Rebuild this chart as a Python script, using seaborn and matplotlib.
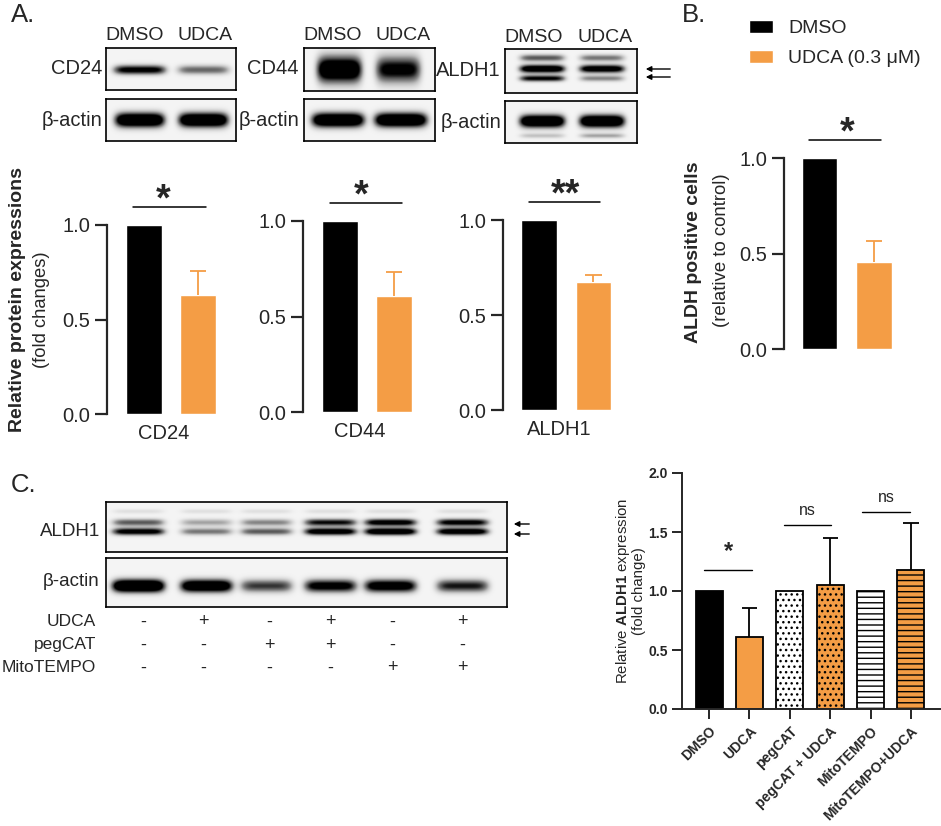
import numpy as np
import matplotlib.pyplot as plt
import seaborn as sns
from matplotlib.patches import Patch, FancyArrowPatch

W, H = 941, 826
black = '#000000'
orange = '#F49D45'

# panel A quantification (fold change vs DMSO)
groups = ['DMSO', 'UDCA']
cd24_vals = [1.0, 0.63]
cd24_err = [0.0, 0.125]
cd44_vals = [1.0, 0.607]
cd44_err = [0.0, 0.126]
aldh1_vals = [1.0, 0.674]
aldh1_err = [0.0, 0.036]

# panel B
aldh_pos_vals = [1.0, 0.455]
aldh_pos_err = [0.0, 0.11]

# panel C
c_groups = ['DMSO', 'UDCA', 'pegCAT', 'pegCAT + UDCA', 'MitoTEMPO', 'MitoTEMPO+UDCA']
c_vals = [1.0, 0.61, 1.0, 1.05, 1.0, 1.18]
c_err = [0.0, 0.245, 0.0, 0.40, 0.0, 0.40]
c_colors = [black, orange, 'white', orange, 'white', orange]
c_hatches = ['', '', '...', '...', '---', '---']
udca_row = ['-', '+', '-', '+', '-', '+']
pegcat_row = ['-', '-', '+', '+', '-', '-']
mito_row = ['-', '-', '-', '-', '+', '+']

# western blot band intensities per lane
cd24_band = [0.95, 0.55]
cd44_band = [1.3, 0.95]
aldh1_a_top = [0.6, 0.5]
aldh1_a_mid = [1.2, 1.1]
aldh1_a_low = [0.9, 0.45]
actin_a = [1.4, 1.4]
aldh1_c_upper = [0.6, 0.35, 0.45, 0.85, 1.0, 0.95]
aldh1_c_lower = [1.0, 0.5, 0.6, 1.1, 1.2, 1.1]
actin_c = [1.5, 1.3, 0.7, 1.0, 1.1, 0.8]

sns.set_style('ticks')
plt.rcParams['font.family'] = ['Liberation Sans', 'DejaVu Sans']
plt.rcParams['mathtext.fontset'] = 'custom'
plt.rcParams['mathtext.rm'] = 'Liberation Sans'
plt.rcParams['mathtext.bf'] = 'Liberation Sans:bold'
plt.rcParams['hatch.linewidth'] = 1.0

fig = plt.figure(figsize=(W / 100, H / 100), dpi=100)


def rect(x0, y0, x1, y1):
    return [x0 / W, 1 - y1 / H, (x1 - x0) / W, (y1 - y0) / H]


def ftext(x, y, s, **kw):
    fig.text(x / W, 1 - y / H, s, **kw)


def arrow(x_tail, x_head, y):
    fig.add_artist(FancyArrowPatch(
        (x_tail / W, 1 - y / H), (x_head / W, 1 - y / H), transform=fig.transFigure,
        arrowstyle='-|>', mutation_scale=8, lw=1.0, color=black))


def upper_err(ax, xs, vals, errs, color, half, lw):
    # one-sided (upward) error bars, as drawn by Prism
    for x, v, e in zip(xs, vals, errs):
        if e > 0:
            ax.vlines(x, v, v + e, color=color, lw=lw, zorder=3)
            ax.hlines(v + e, x - half, x + half, color=color, lw=lw, zorder=3)


def draw_blot(box, centers, half_w, bands):
    ax = fig.add_axes(rect(*box))
    xs = np.linspace(0, 1, 400)
    ys = np.linspace(0, 1, 120)
    img = np.zeros((ys.size, xs.size))
    for yc, sig, levels in bands:
        for c, v in zip(centers, levels):
            px = np.exp(-((xs - c) / half_w) ** 6)
            py = np.exp(-((ys - yc) / sig) ** 2)
            img += v * np.outer(py, px)
    ax.imshow(np.clip(img, 0, 1), cmap='Greys', vmin=-0.08, vmax=0.85,
              extent=(0, 1, 0, 1), aspect='auto', interpolation='bilinear')
    ax.set_xticks([])
    ax.set_yticks([])
    for s in ax.spines.values():
        s.set_linewidth(1.2)
        s.set_color(black)
    return ax


def fold_chart(left, top, bottom, spacing, xl, vals, errs, name, stars, star_x, sig_x):
    right = left + (1.4 - xl) * spacing
    ax = fig.add_axes(rect(left, top, right, bottom))
    sns.barplot(x=groups, y=vals, hue=groups, palette=[black, orange], saturation=1,
                width=0.65, legend=False, errorbar=None, ax=ax)
    upper_err(ax, [0, 1], vals, errs, orange, 0.15, 1.3)
    ax.set_xlim(xl, 1.4)
    ax.set_ylim(0, 1)
    ax.set_yticks([0, 0.5, 1.0])
    ax.set_yticklabels(['0.0', '0.5', '1.0'])
    ax.set_xticks([])
    sns.despine(ax=ax, bottom=True)
    ax.spines['left'].set_linewidth(1.6)
    ax.tick_params(axis='y', length=9, width=1.6, labelsize=14.5, pad=3)
    ax.set_xlabel(name, fontsize=14.5, labelpad=7)
    ax.set_ylabel('')
    ax.plot(sig_x, [1.095, 1.095], color=black, lw=1.1, clip_on=False)
    ax.text(star_x, 1.075, stars, ha='center', va='baseline', fontsize=27, fontweight='bold')
    return ax


# ---------------- Panel A ----------------
ftext(11, 15, 'A.', fontsize=18.5, va='center')

draw_blot((106, 48, 236, 90), [0.26, 0.75], 0.2, [(0.52, 0.11, cd24_band)])
draw_blot((106, 99, 236, 141), [0.26, 0.75], 0.19, [(0.5, 0.17, actin_a)])
draw_blot((304, 48, 435, 91), [0.27, 0.72], 0.17, [(0.5, 0.3, cd44_band)])
draw_blot((304, 99, 435, 141), [0.26, 0.74], 0.2, [(0.5, 0.17, actin_a)])
draw_blot((505, 49, 637, 93), [0.28, 0.73], 0.17,
          [(0.2, 0.08, aldh1_a_top), (0.45, 0.09, aldh1_a_mid), (0.67, 0.07, aldh1_a_low)])
draw_blot((505, 101, 637, 143), [0.28, 0.73], 0.17,
          [(0.48, 0.15, actin_a), (0.83, 0.06, [0.25, 0.35])])

for cx, cy, lab in [(135, 35, 'DMSO'), (205, 35, 'UDCA'), (333, 35, 'DMSO'), (403, 35, 'UDCA'),
                    (534, 37, 'DMSO'), (605, 37, 'UDCA')]:
    ftext(cx, cy, lab, fontsize=14, ha='center', va='center')
for x, y, lab in [(102, 69, 'CD24'), (102, 120, 'β-actin'), (299, 69, 'CD44'),
                  (299, 120, 'β-actin'), (501, 71, 'ALDH1'), (501, 122, 'β-actin')]:
    ftext(x, y, lab, fontsize=14.5, ha='right', va='center')
arrow(673, 643, 69)
arrow(673, 643, 77)

fold_chart(107, 225, 414, 54, -0.685, cd24_vals, cd24_err, 'CD24', '*', 0.35, [-0.2, 1.15])
fold_chart(303, 221, 412, 54, -0.685, cd44_vals, cd44_err, 'CD44', '*', 0.4, [-0.19, 1.15])
fold_chart(503, 220, 410, 54.5, -0.66, aldh1_vals, aldh1_err, 'ALDH1', '**', 0.48, [-0.18, 1.12])

ftext(18, 300, 'Relative protein expressions', fontsize=14, fontweight='bold',
      rotation=90, ha='center', va='center')
ftext(42, 310, '(fold changes)', fontsize=13.2, rotation=90, ha='center', va='center')

# ---------------- Panel B ----------------
ftext(682, 15, 'B.', fontsize=18.5, va='center')
fig.legend(handles=[Patch(facecolor=black), Patch(facecolor=orange)],
           labels=['DMSO', 'UDCA (0.3 μM)'], loc='upper left',
           bbox_to_anchor=(749 / W, 1 - 20 / H), frameon=False, fontsize=14,
           handlelength=1.25, handleheight=0.68, handletextpad=0.75, labelspacing=0.62,
           borderaxespad=0, borderpad=0)

fold_chart(784, 158, 349, 54.5, -0.65, aldh_pos_vals, aldh_pos_err, '', '*', 0.5, [-0.19, 1.13])
ftext(693, 252, 'ALDH positive cells', fontsize=14, fontweight='bold',
      rotation=90, ha='center', va='center')
ftext(721, 250, '(relative to control)', fontsize=13.4, rotation=90, ha='center', va='center')

# ---------------- Panel C ----------------
ftext(11, 485, 'C.', fontsize=18.5, va='center')
lane_c = [0.08, 0.25, 0.40, 0.56, 0.71, 0.89]
draw_blot((106, 502, 507, 552), lane_c, 0.065,
          [(0.2, 0.05, [0.12] * 6), (0.42, 0.07, aldh1_c_upper), (0.6, 0.07, aldh1_c_lower)])
draw_blot((106, 558, 507, 607), lane_c, 0.065, [(0.57, 0.13, actin_c)])
ftext(100, 532, 'ALDH1', fontsize=13.5, ha='right', va='center')
ftext(100, 582, 'β-actin', fontsize=13.5, ha='right', va='center')
arrow(532, 511, 524)
arrow(532, 511, 534)

mark_x = [143, 203, 269, 330, 392, 462]
for y, name, row in [(622, 'UDCA', udca_row), (645, 'pegCAT', pegcat_row),
                     (668, 'MitoTEMPO', mito_row)]:
    ftext(96, y, name, fontsize=12.5, ha='right', va='center')
    for x, s in zip(mark_x, row):
        ftext(x, y, s, fontsize=13, ha='center', va='center')

axc = fig.add_axes(rect(682, 473, 940, 709))
sns.barplot(x=c_groups, y=c_vals, hue=c_groups, palette=c_colors, saturation=1, width=0.67,
            legend=False, errorbar=None, edgecolor=black, linewidth=1.3, ax=axc)
for patch, h in zip(axc.patches, c_hatches):
    patch.set_hatch(h)
upper_err(axc, range(6), c_vals, c_err, black, 0.19, 1.3)
axc.set_xlim(-0.67, 5.72)
axc.set_ylim(0, 2)
axc.set_yticks([0, 0.5, 1.0, 1.5, 2.0])
axc.set_yticklabels(['0.0', '0.5', '1.0', '1.5', '2.0'], fontweight='bold')
axc.set_xticks(range(6))
axc.set_xticklabels(c_groups, rotation=45, ha='right', rotation_mode='anchor', fontweight='bold')
axc.tick_params(length=7, width=1.4, labelsize=10, pad=3)
axc.tick_params(axis='x', labelsize=10, pad=4)
sns.despine(ax=axc)
for s in ['left', 'bottom']:
    axc.spines[s].set_linewidth(1.4)
axc.set_xlabel('')
axc.set_ylabel('')
for x0, x1, y, lab, fs in [(-0.12, 1.07, 1.18, '*', 17), (1.86, 3.03, 1.56, 'ns', 11.5),
                           (3.79, 4.98, 1.67, 'ns', 11.5)]:
    axc.plot([x0, x1], [y, y], color=black, lw=1.0, clip_on=False)
    axc.text((x0 + x1) / 2, y + 0.06, lab, ha='center', va='bottom', fontsize=fs,
             fontweight='bold' if lab == '*' else 'normal')
ftext(630, 591, 'Relative $\\bf{ALDH1}$ expression\n(fold change)', fontsize=10.8,
      rotation=90, ha='center', va='center', multialignment='center', linespacing=1.05)

fig.savefig('out.png', dpi=100)
